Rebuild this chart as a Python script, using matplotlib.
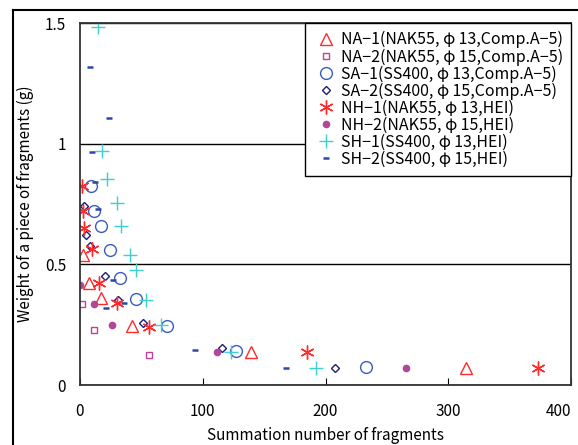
import matplotlib
matplotlib.use("Agg")
import matplotlib.pyplot as plt
from matplotlib.lines import Line2D

plt.rcParams['font.family'] = ['Noto Sans CJK JP', 'DejaVu Sans']
plt.rcParams['font.size'] = 11

# data: (summation number, weight in g)
na1_x = [2.7, 7.6, 17.3, 42.3, 138.9, 314.6]
na1_y = [0.538, 0.421, 0.361, 0.244, 0.137, 0.072]

na2_x = [1.9, 11.1, 55.9]
na2_y = [0.337, 0.228, 0.125]

sa1_x = [9.0, 11.4, 17.3, 24.2, 32.3, 45.6, 70.5, 126.7, 233.0]
sa1_y = [0.824, 0.720, 0.658, 0.559, 0.443, 0.355, 0.244, 0.142, 0.073]

sa2_x = [3.5, 4.9, 8.1, 20.1, 30.7, 51.0, 115.3, 208.1]
sa2_y = [0.741, 0.621, 0.578, 0.453, 0.352, 0.255, 0.154, 0.069]

nh1_x = [1.9, 2.7, 3.3, 10.0, 15.5, 29.9, 56.4, 184.5, 373.2]
nh1_y = [0.823, 0.720, 0.649, 0.563, 0.424, 0.342, 0.241, 0.135, 0.072]

nh2_x = [0.2, 11.4, 25.8, 111.7, 265.3]
nh2_y = [0.414, 0.334, 0.247, 0.137, 0.072]

sh1_x = [14.9, 17.9, 21.7, 29.9, 33.4, 40.9, 45.8, 53.9, 65.9, 122.6, 192.4]
sh1_y = [1.484, 0.972, 0.853, 0.755, 0.658, 0.538, 0.476, 0.353, 0.250, 0.138, 0.069]

sh2_x = [8.1, 23.8, 9.8, 12.2, 14.9, 27.1, 20.9, 35.8, 93.6, 167.4]
sh2_y = [1.318, 1.107, 0.964, 0.841, 0.729, 0.435, 0.320, 0.340, 0.144, 0.069]

labels = ["NA−1(NAK55, φ\u200913,Comp.A−5)",
          "NA−2(NAK55, φ\u200915,Comp.A−5)",
          "SA−1(SS400, φ\u200913,Comp.A−5)",
          "SA−2(SS400, φ\u200915,Comp.A−5)",
          "NH−1(NAK55, φ\u200913,HEI)",
          "NH−2(NAK55, φ\u200915,HEI)",
          "SH−1(SS400, φ\u200913,HEI)",
          "SH−2(SS400, φ\u200915,HEI)"]

fig = plt.figure(figsize=(5.78, 4.45), dpi=100)
ax = fig.add_axes([0.1384, 0.1348, 0.8496, 0.8132])

# frame around the whole figure (only left and top visible in the crop)
fig.add_artist(Line2D([0.0225, 0.0225], [0, 0.9775], color='black', lw=1.5, transform=fig.transFigure))
fig.add_artist(Line2D([0.0225, 1.0], [0.9775, 0.9775], color='black', lw=1.5, transform=fig.transFigure))

ax.plot(na1_x, na1_y, ls='none', marker='^', ms=9, mfc='none', mec='#ff2a2a', mew=1.0, label=labels[0])
ax.plot(na2_x, na2_y, ls='none', marker='s', ms=4.5, mfc='none', mec='#c040a0', mew=1.0, label=labels[1])
ax.plot(sa1_x, sa1_y, ls='none', marker='o', ms=8.5, mfc='none', mec='#3a5cc0', mew=1.0, label=labels[2])
ax.plot(sa2_x, sa2_y, ls='none', marker='D', ms=4, mfc='none', mec='#1c1c80', mew=1.0, label=labels[3])
ax.plot(nh1_x, nh1_y, ls='none', marker=(6, 2, 0), ms=10, mec='#ff2a2a', mew=1.0, label=labels[4])
ax.plot(nh2_x, nh2_y, ls='none', marker='o', ms=4.5, mfc='#b04898', mec='#b04898', label=labels[5])
ax.plot(sh1_x, sh1_y, ls='none', marker='+', ms=10, mec='#3cd0d0', mew=1.0, label=labels[6])
ax.plot(sh2_x, sh2_y, ls='none', marker='_', ms=5, mec='#2a48a8', mew=1.8, label=labels[7])

ax.set_xlim(0, 400)
ax.set_ylim(0, 1.5)
ax.set_xticks([0, 100, 200, 300, 400])
ax.set_yticks([0, 0.5, 1, 1.5])
ax.set_yticklabels(["0", "0.5", "1", "1.5"])
ax.tick_params(axis='x', direction='in', length=5, pad=13)
ax.tick_params(axis='y', direction='in', length=0, pad=10)
ax.get_xticklabels()[-1].set_horizontalalignment('right')
ax.yaxis.grid(True, color='black', lw=1.0)
ax.set_axisbelow(True)
for s in ax.spines.values():
    s.set_color('#333333')
    s.set_linewidth(1.3)

ax.set_xlabel("Summation number of fragments", labelpad=5)
ax.set_ylabel("Weight of a piece of fragments (g)", labelpad=8)

leg = ax.legend(loc='upper right', borderaxespad=0, fancybox=False, framealpha=1,
                edgecolor='black', handlelength=1.7, handletextpad=0.05,
                labelspacing=0.0, borderpad=0.5, fontsize=11.5)
leg.get_frame().set_linewidth(1.0)

fig.savefig("out.png", dpi=100)
